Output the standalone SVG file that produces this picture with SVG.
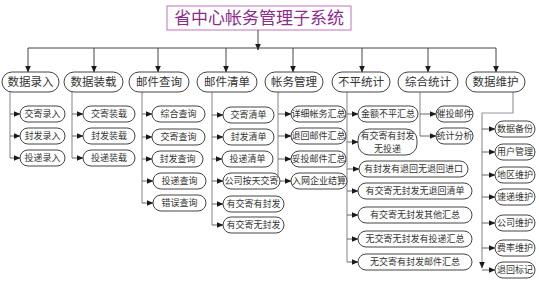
<svg xmlns="http://www.w3.org/2000/svg" width="539" height="284" viewBox="0 0 539 284">
<defs>
<marker id="ah" markerUnits="userSpaceOnUse" markerWidth="7" markerHeight="6" refX="6.5" refY="3" orient="auto"><path d="M0,0 L7,3 L0,6 z" fill="#1a1a1a"/></marker>
<style>
.top{stroke:#444;stroke-width:1;fill:none}
.tr{stroke:#999;stroke-width:1.2;fill:none}
.br{stroke:#666;stroke-width:1;fill:none}
.n rect{fill:#fff;stroke:#444;stroke-width:1}
.n text{font-family:"Noto Sans CJK SC","Noto Sans",sans-serif;fill:#333;text-anchor:middle}
.L text{font-size:11.5px}
.s text{font-size:9px}
</style>
</defs>
<rect width="539" height="284" fill="#fff"/>
<g id="title">
<rect x="167" y="6" width="184" height="24" fill="#fff" stroke="#c070c0" stroke-width="1"/>
<text x="259" y="24" font-family="Noto Sans CJK SC,sans-serif" font-size="17" fill="#8e2a8e" text-anchor="middle">省中心帐务管理子系统</text>
</g>
<g id="connectors">
<line class="top" x1="258" y1="30" x2="258" y2="50" marker-end="url(#ah)"/>
<line class="top" x1="28" y1="48" x2="496" y2="48"/>
<line class="top" x1="28" y1="48" x2="28" y2="72" marker-end="url(#ah)"/>
<line class="top" x1="94" y1="48" x2="94" y2="72" marker-end="url(#ah)"/>
<line class="top" x1="158" y1="48" x2="158" y2="72" marker-end="url(#ah)"/>
<line class="top" x1="226" y1="48" x2="226" y2="72" marker-end="url(#ah)"/>
<line class="top" x1="293" y1="48" x2="293" y2="72" marker-end="url(#ah)"/>
<line class="top" x1="362" y1="48" x2="362" y2="72" marker-end="url(#ah)"/>
<line class="top" x1="428" y1="48" x2="428" y2="72" marker-end="url(#ah)"/>
<line class="top" x1="496" y1="48" x2="496" y2="72" marker-end="url(#ah)"/>
<line class="tr" x1="10" y1="92" x2="10" y2="158"/>
<line class="br" x1="10" y1="114" x2="20" y2="114" marker-end="url(#ah)"/>
<line class="br" x1="10" y1="136" x2="20" y2="136" marker-end="url(#ah)"/>
<line class="br" x1="10" y1="158" x2="20" y2="158" marker-end="url(#ah)"/>
<line class="tr" x1="72" y1="92" x2="72" y2="158"/>
<line class="br" x1="72" y1="114" x2="83" y2="114" marker-end="url(#ah)"/>
<line class="br" x1="72" y1="136" x2="83" y2="136" marker-end="url(#ah)"/>
<line class="br" x1="72" y1="158" x2="83" y2="158" marker-end="url(#ah)"/>
<line class="tr" x1="142" y1="92" x2="142" y2="203"/>
<line class="br" x1="142" y1="114" x2="152" y2="114" marker-end="url(#ah)"/>
<line class="br" x1="142" y1="137" x2="152" y2="137" marker-end="url(#ah)"/>
<line class="br" x1="142" y1="159" x2="152" y2="159" marker-end="url(#ah)"/>
<line class="br" x1="142" y1="181" x2="153" y2="181" marker-end="url(#ah)"/>
<line class="br" x1="142" y1="203" x2="153" y2="203" marker-end="url(#ah)"/>
<line class="tr" x1="212" y1="92" x2="212" y2="225"/>
<line class="br" x1="212" y1="115" x2="223" y2="115" marker-end="url(#ah)"/>
<line class="br" x1="212" y1="137" x2="223" y2="137" marker-end="url(#ah)"/>
<line class="br" x1="212" y1="159" x2="222" y2="159" marker-end="url(#ah)"/>
<line class="br" x1="212" y1="181" x2="223" y2="181" marker-end="url(#ah)"/>
<line class="br" x1="212" y1="204" x2="223" y2="204" marker-end="url(#ah)"/>
<line class="br" x1="212" y1="225" x2="223" y2="225" marker-end="url(#ah)"/>
<line class="tr" x1="278" y1="92" x2="278" y2="181"/>
<line class="br" x1="278" y1="114" x2="291" y2="114" marker-end="url(#ah)"/>
<line class="br" x1="278" y1="136" x2="291" y2="136" marker-end="url(#ah)"/>
<line class="br" x1="278" y1="159" x2="291" y2="159" marker-end="url(#ah)"/>
<line class="br" x1="280" y1="181" x2="291" y2="181" marker-end="url(#ah)"/>
<line class="tr" x1="347" y1="92" x2="347" y2="262"/>
<line class="br" x1="347" y1="114" x2="358" y2="114" marker-end="url(#ah)"/>
<line class="br" x1="347" y1="142" x2="358" y2="142" marker-end="url(#ah)"/>
<line class="br" x1="347" y1="169" x2="359" y2="169" marker-end="url(#ah)"/>
<line class="br" x1="347" y1="191" x2="358" y2="191" marker-end="url(#ah)"/>
<line class="br" x1="347" y1="215" x2="358" y2="215" marker-end="url(#ah)"/>
<line class="br" x1="347" y1="239" x2="358" y2="239" marker-end="url(#ah)"/>
<line class="br" x1="347" y1="262" x2="358" y2="262" marker-end="url(#ah)"/>
<line class="tr" x1="420" y1="92" x2="420" y2="136"/>
<line class="br" x1="420" y1="114" x2="436" y2="114" marker-end="url(#ah)"/>
<line class="br" x1="420" y1="136" x2="436" y2="136" marker-end="url(#ah)"/>
<path class="tr" d="M513,92 V113 H482 V268" marker-end="url(#ah)"/>
<line class="br" x1="482" y1="129" x2="495" y2="129" marker-end="url(#ah)"/>
<line class="br" x1="482" y1="152" x2="495" y2="152" marker-end="url(#ah)"/>
<line class="br" x1="482" y1="175" x2="495" y2="175" marker-end="url(#ah)"/>
<line class="br" x1="482" y1="197" x2="495" y2="197" marker-end="url(#ah)"/>
<line class="br" x1="482" y1="223" x2="495" y2="223" marker-end="url(#ah)"/>
<line class="br" x1="482" y1="248" x2="495" y2="248" marker-end="url(#ah)"/>
<line class="br" x1="482" y1="270" x2="495" y2="270" marker-end="url(#ah)"/>
</g>
<g id="n-sjlr" class="n L"><rect x="2" y="72" width="57" height="20" rx="10"/><text x="30.5" y="86.2">数据录入</text></g>
<g id="n-sjzz" class="n L"><rect x="64" y="72" width="59" height="20" rx="10"/><text x="93.5" y="86.2">数据装载</text></g>
<g id="n-yjcx" class="n L"><rect x="129" y="72" width="60" height="20" rx="10"/><text x="159" y="86.2">邮件查询</text></g>
<g id="n-yjqd" class="n L"><rect x="197" y="72" width="60" height="20" rx="10"/><text x="227" y="86.2">邮件清单</text></g>
<g id="n-zwgl" class="n L"><rect x="265" y="72" width="58" height="20" rx="10"/><text x="294" y="86.2">帐务管理</text></g>
<g id="n-bptj" class="n L"><rect x="332" y="72" width="58" height="20" rx="10"/><text x="361" y="86.2">不平统计</text></g>
<g id="n-zhtj" class="n L"><rect x="398" y="72" width="60" height="20" rx="10"/><text x="428" y="86.2">综合统计</text></g>
<g id="n-sjwh" class="n L"><rect x="466" y="72" width="59" height="20" rx="10"/><text x="495.5" y="86.2">数据维护</text></g>
<g id="n-jjlr" class="n s"><rect x="20" y="106" width="45" height="16" rx="8"/><text x="42.5" y="117.3">交寄录入</text></g>
<g id="n-fflr" class="n s"><rect x="20" y="128" width="45" height="16" rx="8"/><text x="42.5" y="139.3">封发录入</text></g>
<g id="n-tdlr" class="n s"><rect x="20" y="150" width="45" height="16" rx="8"/><text x="42.5" y="161.3">投递录入</text></g>
<g id="n-jjzz" class="n s"><rect x="83" y="106" width="52" height="16" rx="8"/><text x="109" y="117.3">交寄装载</text></g>
<g id="n-ffzz" class="n s"><rect x="83" y="128" width="52" height="16" rx="8"/><text x="109" y="139.3">封发装载</text></g>
<g id="n-tdzz" class="n s"><rect x="83" y="150" width="52" height="16" rx="8"/><text x="109" y="161.3">投递装载</text></g>
<g id="n-zhcx" class="n s"><rect x="152" y="106" width="53" height="16" rx="8"/><text x="178.5" y="117.3">综合查询</text></g>
<g id="n-jjcx" class="n s"><rect x="152" y="129" width="53" height="16" rx="8"/><text x="178.5" y="140.3">交寄查询</text></g>
<g id="n-ffcx" class="n s"><rect x="152" y="151" width="51" height="16" rx="8"/><text x="177.5" y="162.3">封发查询</text></g>
<g id="n-tdcx" class="n s"><rect x="153" y="173" width="53" height="16" rx="8"/><text x="179.5" y="184.3">投递查询</text></g>
<g id="n-cwcx" class="n s"><rect x="153" y="195" width="53" height="16" rx="8"/><text x="179.5" y="206.3">错误查询</text></g>
<g id="n-jjqd" class="n s"><rect x="223" y="107" width="51" height="16" rx="8"/><text x="248.5" y="118.3">交寄清单</text></g>
<g id="n-ffqd" class="n s"><rect x="223" y="129" width="51" height="16" rx="8"/><text x="248.5" y="140.3">封发清单</text></g>
<g id="n-tdqd" class="n s"><rect x="222" y="151" width="51" height="16" rx="8"/><text x="247.5" y="162.3">投递清单</text></g>
<g id="n-gsat" class="n s"><rect x="223" y="173" width="57" height="16" rx="8"/><text x="251.5" y="184.3">公司按天交寄</text></g>
<g id="n-yjyf" class="n s"><rect x="223" y="196" width="61" height="16" rx="8"/><text x="253.5" y="207.3">有交寄有封发</text></g>
<g id="n-yjwf" class="n s"><rect x="223" y="217" width="61" height="16" rx="8"/><text x="253.5" y="228.3">有交寄无封发</text></g>
<g id="n-xxzw" class="n s"><rect x="291" y="106" width="55" height="16" rx="8"/><text x="318.5" y="117.3">详细帐务汇总</text></g>
<g id="n-thyj" class="n s"><rect x="291" y="128" width="55" height="16" rx="8"/><text x="318.5" y="139.3">退回邮件汇总</text></g>
<g id="n-ttyj" class="n s"><rect x="291" y="151" width="55" height="16" rx="8"/><text x="318.5" y="162.3">妥投邮件汇总</text></g>
<g id="n-rwqy" class="n s"><rect x="291" y="173" width="56" height="16" rx="8"/><text x="319" y="184.3">入网企业结算</text></g>
<g id="n-jebp" class="n s"><rect x="358" y="106" width="60" height="16" rx="8"/><text x="388" y="117.3">金额不平汇总</text></g>
<g id="n-yjyfwt" class="n s"><rect x="358" y="129" width="59" height="26" rx="11"/><text x="387.5" y="139.2">有交寄有封发</text><text x="387.5" y="151.6">无投递</text></g>
<g id="n-yfyt" class="n s"><rect x="359" y="161" width="109" height="16" rx="8"/><text x="413.5" y="172.3">有封发有退回无退回进口</text></g>
<g id="n-yjwfwt" class="n s"><rect x="358" y="183" width="114" height="16" rx="8"/><text x="415" y="194.3">有交寄无封发无退回清单</text></g>
<g id="n-yjwfqt" class="n s"><rect x="358" y="207" width="114" height="16" rx="8"/><text x="415" y="218.3">有交寄无封发其他汇总</text></g>
<g id="n-wjwfyt" class="n s"><rect x="358" y="231" width="114" height="16" rx="8"/><text x="415" y="242.3">无交寄无封发有投递汇总</text></g>
<g id="n-wjyfyj" class="n s"><rect x="358" y="254" width="114" height="16" rx="8"/><text x="415" y="265.3">无交寄有封发邮件汇总</text></g>
<g id="n-ctyj" class="n s"><rect x="436" y="106" width="37" height="16" rx="8"/><text x="454.5" y="117.3">催投邮件</text></g>
<g id="n-tjfx" class="n s"><rect x="436" y="128" width="37" height="16" rx="8"/><text x="454.5" y="139.3">统计分析</text></g>
<g id="n-sjbf" class="n s"><rect x="495" y="121" width="40" height="16" rx="8"/><text x="515" y="132.3">数据备份</text></g>
<g id="n-yhgl" class="n s"><rect x="495" y="144" width="40" height="16" rx="8"/><text x="515" y="155.3">用户管理</text></g>
<g id="n-dqwh" class="n s"><rect x="495" y="167" width="40" height="16" rx="8"/><text x="515" y="178.3">地区维护</text></g>
<g id="n-sdwh" class="n s"><rect x="495" y="189" width="40" height="16" rx="8"/><text x="515" y="200.3">速递维护</text></g>
<g id="n-gswh" class="n s"><rect x="495" y="215" width="40" height="16" rx="8"/><text x="515" y="226.3">公司维护</text></g>
<g id="n-flwh" class="n s"><rect x="495" y="240" width="40" height="16" rx="8"/><text x="515" y="251.3">费率维护</text></g>
<g id="n-thbj" class="n s"><rect x="495" y="262" width="40" height="16" rx="8"/><text x="515" y="273.3">退回标记</text></g>
</svg>
